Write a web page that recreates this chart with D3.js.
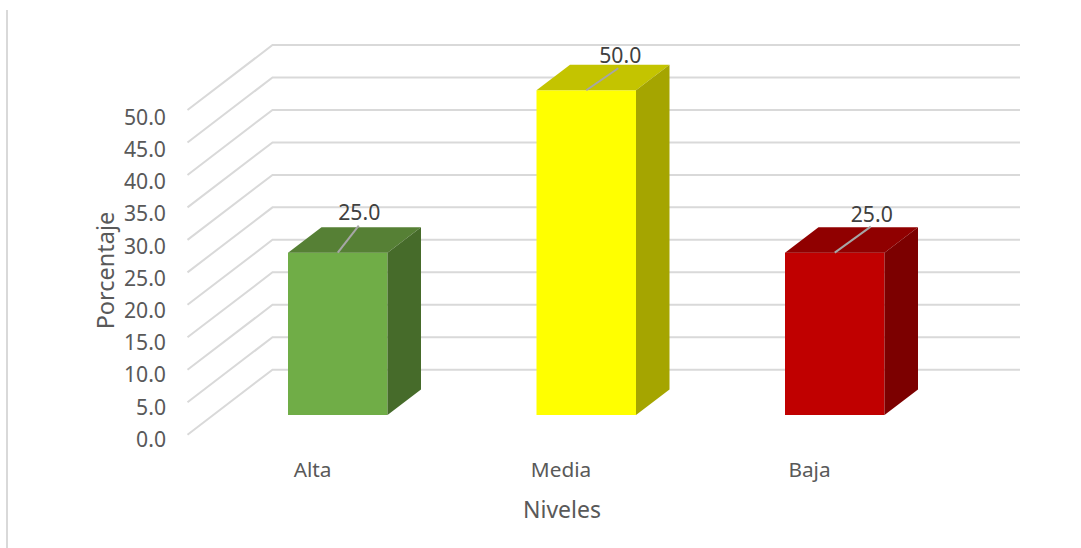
<!DOCTYPE html>
<html>
<head>
<meta charset="utf-8">
<script src="https://cdn.jsdelivr.net/npm/d3@7"></script>
<style>
html,body{margin:0;padding:0;background:#fff}
svg{display:block}
text{font-family:"Noto Sans","Open Sans",sans-serif}
</style>
</head>
<body>
<svg id="c" width="1081" height="548"></svg>
<script>
const categories = ["Alta", "Media", "Baja"];
const values = [25.0, 50.0, 25.0];
const yTicks = [0, 5, 10, 15, 20, 25, 30, 35, 40, 45, 50];
const yTitle = "Porcentaje";
const xTitle = "Niveles";
const faceColors = ["#70ad47", "#ffff00", "#c00000"];
const topColors = ["#568035", "#c4c400", "#900000"];
const sideColors = ["#466b2a", "#a5a500", "#7c0000"];

const svg = d3.select("#c");
const x = d3.scaleBand().domain(categories).range([187.5, 933]);
const y = d3.scaleLinear().domain([0, 50]).range([434.7, 110]);
const yLabel = d3.scaleLinear().domain([0, 50]).range([446.7, 124.7]);
const wall = {dx: 85, dy: 65, right: 1020};
const bar = {w: 99.5, ox: 26, oy: 19.7, dx: 33.5, dy: 25.5};
const leaders = {Alta: [21, -27, 0.5, -32.5], Media: [32, -22, 2, -27.3], Baja: [36, -26, 1, -31]};

svg.append("line").attr("x1", 7).attr("x2", 7).attr("y1", 10).attr("y2", 548)
  .attr("stroke", "#d9d9d9").attr("stroke-width", 2);

// gridlines
svg.append("g").selectAll("path").data(yTicks).join("path")
  .attr("fill", "none").attr("stroke", "#d9d9d9").attr("stroke-width", 2)
  .attr("d", d => d3.line()([
    [x.range()[0], y(d)],
    [x.range()[0] + wall.dx, y(d) - wall.dy],
    [wall.right, y(d) - wall.dy]
  ]));

// y tick labels
svg.append("g").selectAll("text").data(yTicks).join("text")
  .attr("x", 166).attr("y", d => yLabel(d))
  .attr("text-anchor", "end").attr("font-size", 21.2).attr("fill", "#595959")
  .text(d => d3.format(".1f")(d));

// bars
const bars = svg.append("g").selectAll("g").data(categories).join("g");
const left = c => x(c) + x.bandwidth() / 2 + bar.ox - bar.w / 2;
const base = y(0) - bar.oy;
const val = i => y(values[i]) - bar.oy;
bars.append("rect")
  .attr("x", c => left(c)).attr("width", bar.w)
  .attr("y", (c, i) => val(i)).attr("height", (c, i) => base - val(i))
  .attr("fill", (c, i) => faceColors[i]);
bars.append("path").attr("fill", (c, i) => topColors[i])
  .attr("d", (c, i) => d3.line()([
    [left(c), val(i)], [left(c) + bar.w, val(i)],
    [left(c) + bar.w + bar.dx, val(i) - bar.dy], [left(c) + bar.dx, val(i) - bar.dy]
  ]) + "Z");
bars.append("path").attr("fill", (c, i) => sideColors[i])
  .attr("d", (c, i) => d3.line()([
    [left(c) + bar.w, val(i)], [left(c) + bar.w + bar.dx, val(i) - bar.dy],
    [left(c) + bar.w + bar.dx, base - bar.dy], [left(c) + bar.w, base]
  ]) + "Z");

// leader lines and data labels
bars.append("line")
  .attr("x1", c => left(c) + bar.w / 2).attr("y1", (c, i) => val(i))
  .attr("x2", c => left(c) + bar.w / 2 + leaders[c][0])
  .attr("y2", (c, i) => val(i) + leaders[c][1])
  .attr("stroke", "#a6a6a6").attr("stroke-width", 2);
bars.append("text")
  .attr("x", c => left(c) + bar.w / 2 + leaders[c][0] + leaders[c][2])
  .attr("y", (c, i) => val(i) + leaders[c][3])
  .attr("text-anchor", "middle").attr("font-size", 21.2).attr("fill", "#404040")
  .text((c, i) => d3.format(".1f")(values[i]));

// category labels
svg.append("g").selectAll("text").data(categories).join("text")
  .attr("x", c => x(c) + x.bandwidth() / 2 + 0.8).attr("y", 477.3)
  .attr("text-anchor", "middle").attr("font-size", 20.8).attr("fill", "#595959")
  .text(c => c);

svg.append("text").attr("x", 562).attr("y", 518).attr("text-anchor", "middle")
  .attr("font-size", 23).attr("fill", "#595959").text(xTitle);
svg.append("text").attr("transform", "translate(114,270.5) rotate(-90)")
  .attr("text-anchor", "middle").attr("font-size", 23.5).attr("fill", "#595959").text(yTitle);
</script>
</body>
</html>
